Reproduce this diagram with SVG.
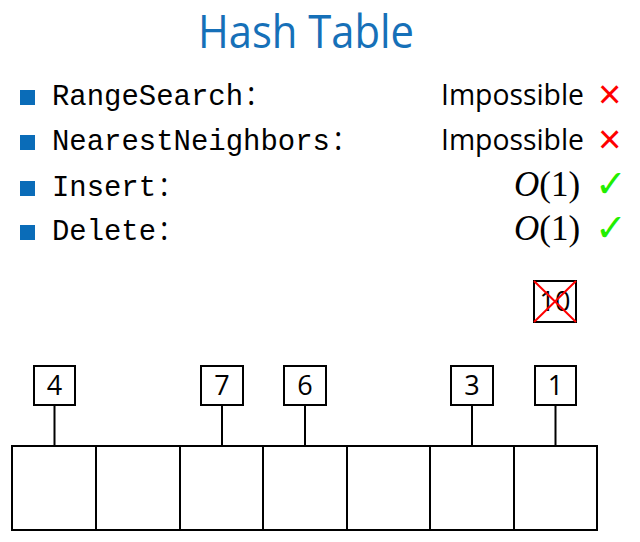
<svg xmlns="http://www.w3.org/2000/svg" width="640" height="542" viewBox="0 0 640 542">
<style>
.title{font-family:"Open Sans","Liberation Sans",sans-serif;font-size:45px;fill:#1670b8}
.bul{fill:#0a6cb8}
.tt{font-family:"Liberation Mono","DejaVu Sans Mono",monospace;font-size:29px;fill:#000}
.sans{font-family:"Open Sans","Liberation Sans",sans-serif;font-size:32px;fill:#000}
.imp{font-family:"Open Sans","Liberation Sans",sans-serif;font-size:30px;fill:#000}
.math{font-family:"Liberation Serif",serif;font-size:35px;fill:#000}
.x{font-family:"Liberation Sans",sans-serif;font-size:40px;fill:#ff0000}
.ok{font-family:"DejaVu Sans",sans-serif;font-size:38px;fill:#22ee00}
.box{fill:#fff;stroke:#000;stroke-width:2}
.num{font-family:"Open Sans","Liberation Sans",sans-serif;font-size:27px;fill:#000;text-anchor:middle}
.ln{stroke:#000;stroke-width:2;fill:none}
</style>
<text class="title" x="198" y="48" textLength="216" lengthAdjust="spacingAndGlyphs">Hash Table</text>
<g id="list">
<rect class="bul" x="20" y="90" width="15" height="15"/>
<rect class="bul" x="20" y="135" width="15" height="15"/>
<rect class="bul" x="20" y="181" width="15" height="15"/>
<rect class="bul" x="20" y="225" width="15" height="15"/>
<text class="tt" x="52" y="105" textLength="191" lengthAdjust="spacingAndGlyphs">RangeSearch</text><text class="sans" x="247" y="105">:</text>
<text class="tt" x="52" y="150" textLength="278" lengthAdjust="spacingAndGlyphs">NearestNeighbors</text><text class="sans" x="334" y="150">:</text>
<text class="tt" x="52" y="196" textLength="104" lengthAdjust="spacingAndGlyphs">Insert</text><text class="sans" x="160" y="196">:</text>
<text class="tt" x="52" y="240" textLength="104" lengthAdjust="spacingAndGlyphs">Delete</text><text class="sans" x="160" y="240">:</text>
<text class="imp" x="441" y="105" textLength="143" lengthAdjust="spacingAndGlyphs">Impossible</text>
<text class="imp" x="441" y="150" textLength="143" lengthAdjust="spacingAndGlyphs">Impossible</text>
<text class="x" x="598" y="108">×</text>
<text class="x" x="598" y="153">×</text>
<text class="math" x="514" y="196"><tspan font-style="italic">O</tspan>(1)</text>
<text class="math" x="514" y="240"><tspan font-style="italic">O</tspan>(1)</text>
<text class="ok" x="595" y="197">✓</text>
<text class="ok" x="595" y="241">✓</text>
</g>
<g id="table">
<rect class="box" x="12" y="446" width="585" height="84"/>
<path class="ln" d="M96 446V530M180 446V530M263 446V530M347 446V530M430 446V530M514 446V530"/>
</g>
<g id="connectors">
<path class="ln" d="M54.5 405V446M222 405V446M305 405V446M472 405V446M555.5 405V446"/>
</g>
<g id="k4"><rect class="box" x="34" y="366" width="41" height="39"/><text class="num" x="54.5" y="395">4</text></g>
<g id="k7"><rect class="box" x="201" y="366" width="42" height="39"/><text class="num" x="222" y="395">7</text></g>
<g id="k6"><rect class="box" x="284" y="366" width="42" height="39"/><text class="num" x="305" y="395">6</text></g>
<g id="k3"><rect class="box" x="451" y="366" width="42" height="39"/><text class="num" x="472" y="395">3</text></g>
<g id="k1"><rect class="box" x="535" y="366" width="41" height="39"/><text class="num" x="555.5" y="395">1</text></g>
<g id="k10"><rect class="box" x="534" y="281" width="42" height="41"/><text class="num" x="555" y="311">10</text>
<path d="M534 281L576 322M576 281L534 322" stroke="#ff0000" stroke-width="2"/></g>
</svg>
